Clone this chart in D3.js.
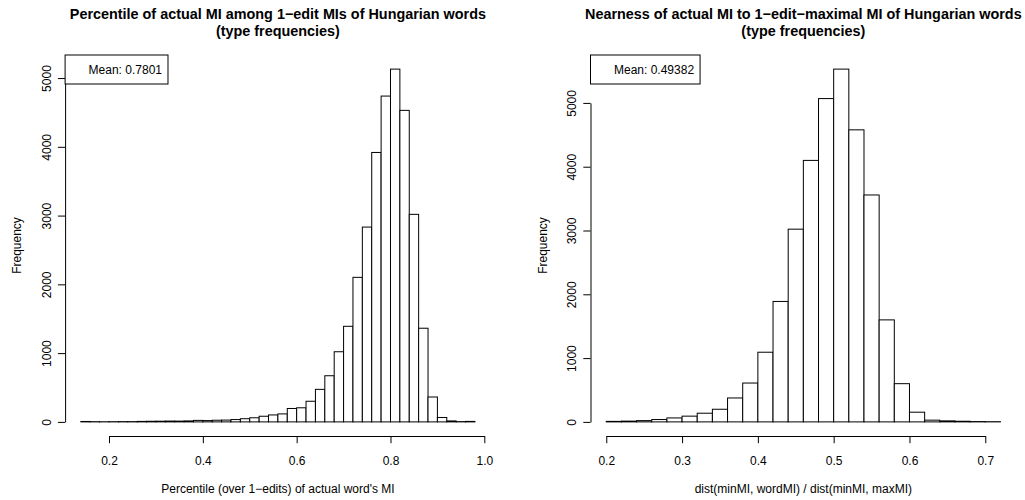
<!DOCTYPE html>
<html>
<head>
<meta charset="utf-8">
<script src="https://cdn.jsdelivr.net/npm/d3@7"></script>
<style>
  body { margin: 0; background: #fff; }
  svg { display: block; }
  text { font-family: "Liberation Sans", Arial, Helvetica, sans-serif; fill: #000; }
</style>
</head>
<body>
<div id="chart"></div>
<script>
// left histogram: bin breaks and counts
const leftBreaks = [0.14, 0.16, 0.18, 0.20, 0.22, 0.24, 0.26, 0.28, 0.30, 0.32, 0.34,
  0.36, 0.38, 0.40, 0.42, 0.44, 0.46, 0.48, 0.50, 0.52, 0.54, 0.56, 0.58, 0.60, 0.62,
  0.64, 0.66, 0.68, 0.70, 0.72, 0.74, 0.76, 0.78, 0.80, 0.82, 0.84, 0.86, 0.88, 0.90,
  0.92, 0.94, 0.96, 0.98];
const leftCounts = [6, 3, 2, 3, 4, 4, 7, 9, 10, 12, 11, 14, 22, 19, 24, 26, 34, 46, 60,
  82, 101, 116, 195, 205, 300, 473, 671, 1020, 1390, 2102, 2833, 3918, 4738, 5130,
  4530, 3018, 1362, 362, 64, 14, 4, 7];
const leftXTicks = [0.2, 0.4, 0.6, 0.8, 1.0];

// right histogram
const rightBreaks = [0.20, 0.22, 0.24, 0.26, 0.28, 0.30, 0.32, 0.34, 0.36, 0.38, 0.40,
  0.42, 0.44, 0.46, 0.48, 0.50, 0.52, 0.54, 0.56, 0.58, 0.60, 0.62, 0.64, 0.66, 0.68,
  0.70, 0.72];
const rightCounts = [8, 12, 20, 37, 62, 90, 136, 198, 375, 609, 1092, 1888, 3021, 4099,
  5068, 5530, 4578, 3557, 1599, 599, 152, 27, 16, 10, 5, 3];
const rightXTicks = [0.2, 0.3, 0.4, 0.5, 0.6, 0.7];

const yTicks = [0, 1000, 2000, 3000, 4000, 5000];

const width = 1025, height = 500;
const svg = d3.select('#chart').append('svg')
  .attr('width', width)
  .attr('height', height);

const line = 14.4; // one R margin line

function drawHist(opts) {
  const { left, right, top, bottom, breaks, counts, xTicks, xFmt, titles, xlab, mean } = opts;
  const g = svg.append('g');

  // R style axis extension (4% on each side)
  const lo = breaks[0], hi = breaks[breaks.length - 1];
  const dx = (hi - lo) * 0.04;
  const x = d3.scaleLinear().domain([lo - dx, hi + dx]).range([left, right]);
  const ymax = d3.max(counts);
  const y = d3.scaleLinear().domain([-ymax * 0.04, ymax * 1.04]).range([bottom, top]);

  const bins = counts.map((c, i) => ({ x0: breaks[i], x1: breaks[i + 1], n: c }));

  // bars
  g.selectAll('rect.bar')
    .data(bins)
    .join('rect')
    .attr('class', 'bar')
    .attr('x', d => x(d.x0))
    .attr('y', d => y(d.n))
    .attr('width', d => x(d.x1) - x(d.x0))
    .attr('height', d => y(0) - y(d.n))
    .attr('fill', '#fff')
    .attr('stroke', '#000')
    .attr('stroke-width', 1);

  // x axis, line only spans the ticks
  const xa = x.copy()
    .domain([xTicks[0], xTicks[xTicks.length - 1]])
    .range([x(xTicks[0]), x(xTicks[xTicks.length - 1])]);
  const gx = g.append('g')
    .attr('transform', `translate(0,${bottom})`)
    .call(d3.axisBottom(xa).tickValues(xTicks).tickFormat(xFmt)
      .tickSizeInner(7.2).tickSizeOuter(0).tickPadding(0));
  gx.select('.domain').attr('stroke', '#000');
  gx.selectAll('.tick line').attr('stroke', '#000');
  gx.selectAll('.tick text')
    .attr('y', 29).attr('dy', null)
    .attr('font-size', 12).attr('fill', '#000');

  // y axis
  const ya = y.copy()
    .domain([yTicks[0], yTicks[yTicks.length - 1]])
    .range([y(yTicks[0]), y(yTicks[yTicks.length - 1])]);
  const gy = g.append('g')
    .attr('transform', `translate(${left},0)`)
    .call(d3.axisLeft(ya).tickValues(yTicks).tickFormat(d3.format('d'))
      .tickSizeInner(7.2).tickSizeOuter(0).tickPadding(0));
  gy.select('.domain').attr('stroke', '#000');
  gy.selectAll('.tick line').attr('stroke', '#000');
  gy.selectAll('.tick text')
    .attr('x', 0).attr('y', -line).attr('dy', null)
    .attr('transform', 'rotate(-90)')
    .attr('text-anchor', 'middle')
    .attr('font-size', 12).attr('fill', '#000');

  // labels
  const cx = (left + right) / 2;
  g.append('text')
    .attr('x', cx).attr('y', bottom + 57)
    .attr('text-anchor', 'middle')
    .attr('font-size', 12)
    .text(xlab);
  g.append('text')
    .attr('transform', `translate(${left - 44},${(top + bottom) / 2}) rotate(-90)`)
    .attr('text-anchor', 'middle')
    .attr('font-size', 12)
    .text('Frequency');

  titles.forEach((t, i) => {
    g.append('text')
      .attr('x', cx).attr('y', 18.5 + i * 17.3)
      .attr('text-anchor', 'middle')
      .attr('font-size', 14.4)
      .attr('font-weight', 'bold')
      .text(t);
  });

  // legend box at top left of the plot region
  const lg = g.append('g');
  const box = lg.append('rect')
    .attr('fill', '#fff').attr('stroke', '#000').attr('stroke-width', 1);
  const lt = lg.append('text')
    .attr('font-size', 12)
    .attr('text-anchor', 'end')
    .text(mean);
  const tw = lt.node().getComputedTextLength();
  const bw = tw + 29.5, bh = 29;
  box.attr('x', left).attr('y', top).attr('width', bw).attr('height', bh);
  lt.attr('x', left + bw - 6).attr('y', top + bh / 2 + 4.5);
}

drawHist({
  left: 65.1, right: 490.7, top: 55, bottom: 436,
  breaks: leftBreaks, counts: leftCounts, xTicks: leftXTicks,
  xFmt: d3.format('.1f'),
  titles: ['Percentile of actual MI among 1\u2212edit MIs of Hungarian words', '(type frequencies)'],
  xlab: "Percentile (over 1\u2212edits) of actual word's MI",
  mean: 'Mean: 0.7801'
});

drawHist({
  left: 590.5, right: 1016.2, top: 55, bottom: 436,
  breaks: rightBreaks, counts: rightCounts, xTicks: rightXTicks,
  xFmt: d3.format('.1f'),
  titles: ['Nearness of actual MI to 1\u2212edit\u2212maximal MI of Hungarian words', '(type frequencies)'],
  xlab: 'dist(minMI, wordMI) / dist(minMI, maxMI)',
  mean: 'Mean: 0.49382'
});
</script>
</body>
</html>
